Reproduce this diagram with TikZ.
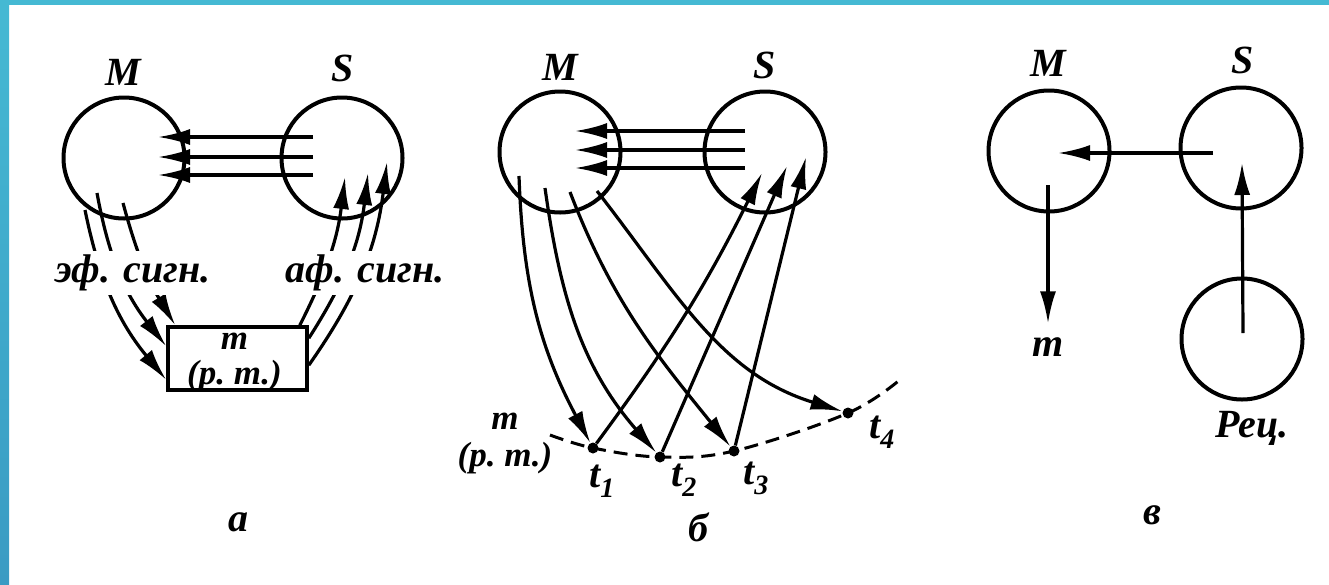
\documentclass[tikz,border=0pt]{standalone}
\usepackage{fontspec}
\setmainfont{Liberation Serif}
\usetikzlibrary{arrows.meta,calc}
\definecolor{ramka}{HTML}{45B9D3}
\definecolor{ramkadno}{HTML}{3A9BC3}

\begin{document}
\begin{tikzpicture}[x=1pt,y=1pt,font=\fontsize{40}{40}\selectfont\bfseries\itshape,
 every node/.append style={inner sep=2pt},
 krug/.style={circle,draw,line width=4pt,minimum size=121pt,inner sep=0pt},
 tochka/.style={circle,fill,inner sep=0pt,minimum size=11pt},
 strel/.style={line width=3.2pt,-{Latex[length=32pt,width=16pt]}},
 punktir/.style={line width=3pt,dash pattern=on 14pt off 8pt},
 podpis/.style={fill=white,inner xsep=2pt,inner ysep=4pt},
 dvestr/.style={align=center,font=\fontsize{35}{35}\selectfont\bfseries\itshape}]
\useasboundingbox (0,0) rectangle (1329,-584);
\shade[top color=ramka,bottom color=ramkadno] (0,0) rectangle (9,-584);
\fill[ramka] (0,0) rectangle (1329,-5);
% a
\node[krug] (Ma) at (124,-158) {};
\node[krug] (Sa) at (342,-158) {};
\node (Mla) at (123,-72) {M};
\node (Sla) at (343,-68) {S};
\node[draw,line width=3.6pt,minimum width=139pt,minimum height=63pt,inner sep=0pt] (Ta) at (237.5,-358.5) {};
\node[dvestr] (Tat) at ($(Ta)+(-3,-4)$) {m\\[0pt](р.~т.)};
\foreach \dy in {21,1,-17}{\draw[strel] ($(Sa)+(-29,\dy)$) -- ($(Ma)+(34,\dy)$);}
\draw[strel] ($(Ma)+(-39,-52)$) to[bend right=14] ($(Ta.south west)+(0,12)$);
\draw[strel] ($(Ma)+(-27,-35)$) to[bend right=14] ($(Ta.north west)+(0,-21)$);
\draw[strel] ($(Ma)+(-1,-45)$) to[bend right=8] ($(Ta.north west)+(9,0)$);
\draw[strel] ($(Ta.north east)+(0,-40)$) to[bend right=14] ($(Sa)+(45,-4)$);
\draw[strel] ($(Ta.north east)+(0,-13)$) to[bend right=13] ($(Sa)+(26,-15)$);
\draw[strel] ($(Ta.north east)+(-9,0)$) to[bend right=10] ($(Sa)+(3,-19)$);
\node[podpis] (efa) at (133,-273) {эф. сигн.};
\node[podpis] (afa) at (365,-273) {аф. сигн.};
\node (la) at (238,-522) {а};
% b
\node[krug] (Mb) at (560,-152) {};
\node[krug] (Sb) at (765,-152) {};
\node (Mlb) at (560,-67) {M};
\node (Slb) at (765,-65) {S};
\foreach \dy in {21,2,-16}{\draw[strel] ($(Sb)+(-20,\dy)$) -- ($(Mb)+(15,\dy)$);}
\node[tochka] (t1) at (593,-448) {};
\node[tochka] (t2) at (660,-457) {};
\node[tochka] (t3) at (734,-451) {};
\node[tochka] (t4) at (848,-413) {};
\coordinate (mb0) at (550,-435);
\coordinate (mb5) at (902,-378);
\draw[punktir] plot[smooth,tension=0.6] coordinates {(mb0) (t1.center) (t2.center) (t3.center) (t4.center) (mb5)};
\foreach \dx/\dy/\o/\i/\tk in {-41/-24/-88/118/t1,-15/-36/-82/131/t2,10/-40/-69/129/t3,37/-39/-52/163/t4}{
 \draw[strel] ($(Mb)+(\dx,\dy)$) to[out=\o,in=\i] (\tk);
}
\foreach \tk/\dx/\dy/\b in {t1/-3/-21/5,t2/22/-14/0,t3/41/-5/0}{
 \draw[strel] (\tk) to[bend right=\b] ($(Sb)+(\dx,\dy)$);
}
\foreach \tk/\x/\y in {1/602/481,2/684/480,3/756/478,4/882/432}{
 \node (lt\tk) at (\x,-\y) {t\textsubscript{\tk}};
}
\node[dvestr] (mb) at (505,-443) {m\\[2pt](р.~т.)};
\node (lb) at (698,-527) {б};
% v
\node[krug] (Mc) at (1049,-151) {};
\node[krug] (Sc) at (1241,-148) {};
\node[krug] (Rc) at (1242,-339) {};
\node (Mlc) at (1048,-63) {M};
\node (Slc) at (1243,-60) {S};
\node (mc) at (1048,-347) {m};
\node (Rlc) at (1252,-428) {Рец.};
\draw[strel] ($(Sc)+(-28,-5)$) -- ($(Mc)+(9,-2)$);
\draw[strel,shorten >=12pt] ($(Mc)+(-1,-34)$) -- (mc);
\draw[strel] ($(Rc)+(1,6)$) -- ($(Sc)+(1,-15)$);
\node (lc) at (1152,-515) {в};
\end{tikzpicture}
\end{document}
